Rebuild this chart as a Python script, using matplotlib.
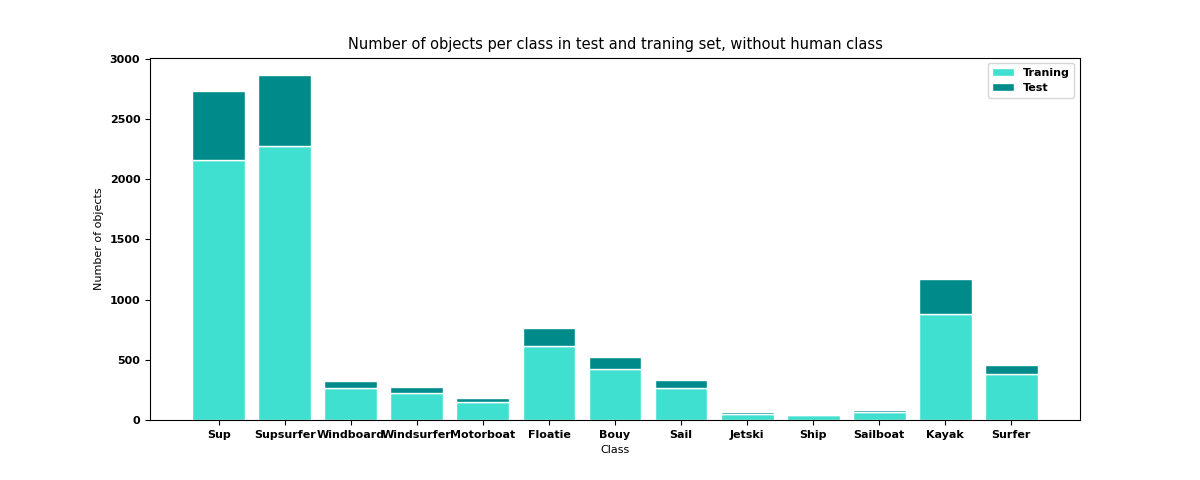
import matplotlib.pyplot as plt

classes = ['Sup', 'Supsurfer', 'Windboard', 'Windsurfer', 'Motorboat', 'Floatie', 'Bouy',
           'Sail', 'Jetski', 'Ship', 'Sailboat', 'Kayak', 'Surfer']
train = [2158, 2275, 267, 225, 150, 617, 425, 267, 53, 45, 70, 883, 383]
test = [575, 592, 58, 50, 33, 150, 100, 66, 14, 0, 17, 292, 75]

plt.rcParams['font.size'] = 8
fig = plt.figure(figsize=(12, 4.8), dpi=100)
plt.subplots_adjust(left=0.125, right=0.9, bottom=0.125, top=0.88)
plt.bar(classes, train, color='turquoise', edgecolor='white', label='Traning')
plt.bar(classes, test, bottom=train, color='darkcyan', edgecolor='white', label='Test')
plt.xlabel('Class')
plt.ylabel('Number of objects')
plt.title('Number of objects per class in test and traning set, without human class', fontsize=10.5)
plt.xticks(fontweight='bold')
plt.yticks(fontweight='bold')
plt.legend(prop={'weight': 'bold'})
plt.savefig('out.png')
